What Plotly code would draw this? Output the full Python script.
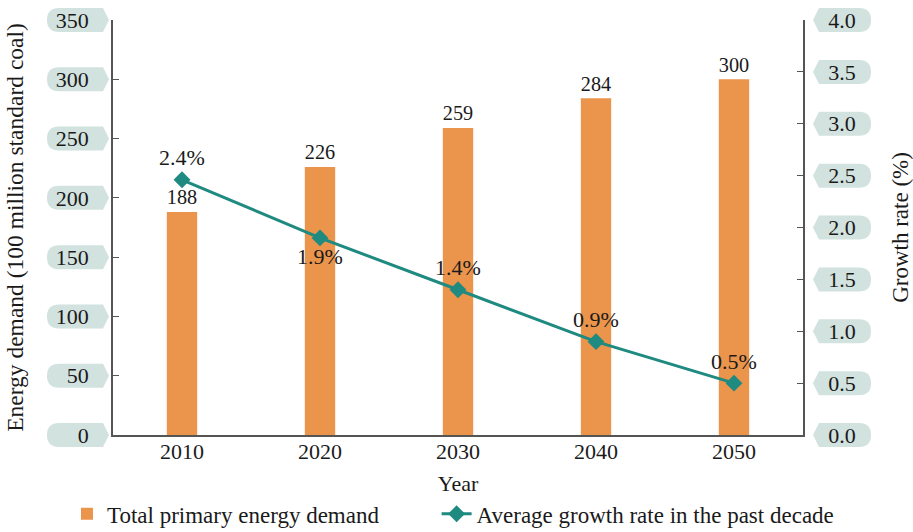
import plotly.graph_objects as go

years = ["2010", "2020", "2030", "2040", "2050"]
demand = [188, 226, 259, 284, 300]
growth = [2.46, 1.9, 1.4, 0.9, 0.5]
growth_labels = ["2.4%", "1.9%", "1.4%", "0.9%", "0.5%"]
growth_label_pos = ["top center", "bottom center", "top center", "top center", "top center"]
left_ticks = [0, 50, 100, 150, 200, 250, 300, 350]
right_ticks = [0.0, 0.5, 1.0, 1.5, 2.0, 2.5, 3.0, 3.5, 4.0]
left_range = [0, 350]
right_range = [0, 4]

FONT = "Liberation Serif"
ORANGE = "#eb944c"
TEAL = "#1f8a80"
TAG = "#d2e2df"
INK = "#1a1a1a"

fig = go.Figure()
fig.add_trace(go.Bar(
    x=years, y=demand, name="Total primary energy demand",
    marker=dict(color=ORANGE, line=dict(width=0)), width=0.22,
    text=[str(v) for v in demand], textposition="outside",
    textfont=dict(family=FONT, size=22, color=INK), cliponaxis=False,
    legend="legend",
))
fig.add_trace(go.Scatter(
    x=years, y=growth, yaxis="y2", name="Average growth rate in the past decade",
    mode="lines+markers+text",
    line=dict(color=TEAL, width=3),
    marker=dict(symbol="diamond", size=13, color=TEAL),
    text=growth_labels, textposition=growth_label_pos,
    textfont=dict(family=FONT, size=22, color=INK), cliponaxis=False,
    legend="legend2",
))

left_path = "M -54,12 L -10,12 L -4,0 L -10,-12 L -54,-12 Q -66,-12 -66,0 Q -66,12 -54,12 Z"
right_path = "M 10,0 L 16,12 L 56,12 Q 68,12 68,0 Q 68,-12 56,-12 L 16,-12 Z"
shapes = []
for t in left_ticks:
    frac = (t - left_range[0]) / (left_range[1] - left_range[0])
    shapes.append(dict(type="path", xref="paper", yref="paper", xsizemode="pixel", ysizemode="pixel",
                       xanchor=0, yanchor=frac, path=left_path, fillcolor=TAG,
                       line=dict(width=0), layer="below"))
for t in right_ticks:
    frac = (t - right_range[0]) / (right_range[1] - right_range[0])
    shapes.append(dict(type="path", xref="paper", yref="paper", xsizemode="pixel", ysizemode="pixel",
                       xanchor=1, yanchor=frac, path=right_path, fillcolor=TAG,
                       line=dict(width=0), layer="below"))

fig.update_layout(
    width=913, height=532,
    margin=dict(l=113, r=110, t=20, b=97, autoexpand=False),
    paper_bgcolor="white", plot_bgcolor="white",
    font=dict(family=FONT, size=22, color=INK),
    showlegend=True,
    legend=dict(orientation="h", x=-0.0667, y=-0.19, xanchor="left", yanchor="middle",
                font=dict(family=FONT, size=23, color=INK), bgcolor="rgba(0,0,0,0)"),
    legend2=dict(orientation="h", x=0.469, y=-0.19, xanchor="left", yanchor="middle",
                 font=dict(family=FONT, size=23, color=INK), bgcolor="rgba(0,0,0,0)"),
    shapes=shapes,
    xaxis=dict(type="category", showline=True, linecolor="#555", linewidth=1.5,
               ticks="", showgrid=False, range=[-0.5, 4.5], automargin=False,
               ticklabelstandoff=-4,
               title=dict(text="Year", standoff=12, font=dict(family=FONT, size=22)),
               tickfont=dict(family=FONT, size=22)),
    yaxis=dict(range=left_range, tickvals=left_ticks, showline=True, linecolor="#555", linewidth=1.5,
               ticks="inside", ticklen=6, tickcolor="#555", showgrid=False, zeroline=False,
               ticklabelstandoff=18, tickfont=dict(family=FONT, size=22), automargin=False,
               title=dict(text="Energy demand (100 million standard coal)", standoff=26,
                          font=dict(family=FONT, size=23.5))),
    yaxis2=dict(range=right_range, tickvals=right_ticks, tickformat=".1f", overlaying="y", side="right",
                showline=True, linecolor="#555", linewidth=1.5, automargin=False,
                ticks="inside", ticklen=6, tickcolor="#555", showgrid=False, zeroline=False,
                ticklabelstandoff=19, tickfont=dict(family=FONT, size=22),
                title=dict(text="Growth rate (%)", standoff=40, font=dict(family=FONT, size=23))),
)

fig.write_html("out.html", config={"displayModeBar": False},
               post_script="document.body.style.margin='0';")
